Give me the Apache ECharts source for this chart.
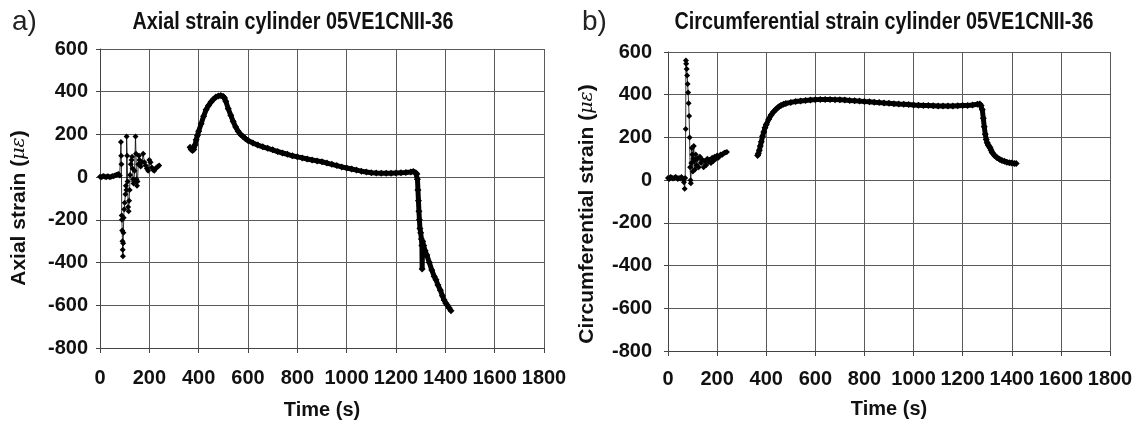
<!DOCTYPE html>
<html><head><meta charset="utf-8">
<script src="https://cdn.jsdelivr.net/npm/echarts@6/dist/echarts.min.js"></script>
<style>html,body{margin:0;padding:0;background:#fff}#c{width:1140px;height:431px}</style>
</head><body><div id="c"></div>
<script>
// ---- Data ----
var xTicks = [0,200,400,600,800,1000,1200,1400,1600,1800];
var yTicks = [-800,-600,-400,-200,0,200,400,600];

// Axial strain, early noisy segment
var axialTimeA = [0,5,10,15,20,25,30,35,40,45,50,55,60,65,70,75,80,
  85,86,87,88,89,90,91,92,93,94,95,96,98,100,103,105,107,108,110,112,114,116,118,120,122,125,128,130,132,134,136,138,140,144,146,148,150,152,155,158,160,165,170,175,180,185,190,195,200,205,210,215,220,225,230,235,240];
var axialStrainA = [2,0,3,5,2,0,4,3,0,2,5,4,8,10,12,15,8,
  165,100,60,-180,-200,-250,-300,-340,-370,-310,-260,-190,-150,-120,-80,-40,-60,190,100,-20,-140,-160,-110,-60,10,60,80,95,40,-10,-30,-20,30,190,110,-10,-40,-20,60,100,80,50,70,110,70,55,40,30,80,70,45,35,30,40,45,50,55];

// Axial strain, main segment
var axialTimeB = [365,370,375,380,385,390,395,400,410,420,430,440,450,460,470,480,490,500,505,510,520,530,540,550,560,570,580,590,600,620,640,660,680,700,720,740,760,780,800,820,840,860,880,900,920,940,960,980,1000,1020,1040,1060,1080,1100,1120,1140,1160,1180,1200,1220,1240,1260,1270,1280,
  1285,1287,1289,1291,1293,1295,1297,1300,1303,1305,1306,1308,1312,1318,1325,1335,1345,1355,1362,1370,1380,1388,1395,1402,1408,1415,1423];
var axialStrainB = [140,130,125,130,150,175,195,215,250,285,315,335,352,365,375,380,382,378,370,355,320,290,260,235,215,200,190,180,172,160,150,142,135,128,120,113,107,100,95,90,85,80,76,72,66,60,54,48,43,38,33,28,24,21,19,18,18,18,19,20,22,24,26,20,
  15,-10,-60,-110,-160,-200,-240,-260,-290,-320,-430,-300,-320,-345,-365,-400,-435,-465,-480,-505,-530,-555,-575,-590,-600,-612,-625];

// Circumferential strain, early noisy segment
var circTimeA = [0,5,10,15,20,25,30,35,40,45,50,55,60,65,68,70,72,73,74,76,78,80,82,84,86,88,90,92,93,95,97,99,101,103,105,107,110,113,116,120,125,130,135,140,145,150,155,160,165,170,175,180,185,190,195,200,205,210,215,220,225,230,235,240];
var circStrainA = [10,5,15,12,8,10,15,12,5,10,8,15,5,-10,-40,10,240,560,545,520,490,450,410,360,300,200,60,0,-15,80,150,120,40,100,160,90,50,120,70,100,60,110,80,95,60,90,70,100,85,95,80,105,90,110,100,115,105,115,120,118,125,128,130,132];

// Circumferential strain, main segment
var circTimeB = [365,368,372,376,380,385,390,395,400,410,420,430,440,450,460,470,480,500,520,540,560,580,600,620,640,660,680,700,720,740,760,780,800,820,840,860,880,900,920,940,960,980,1000,1020,1040,1060,1080,1100,1120,1140,1160,1180,1200,1220,1240,1260,1270,
  1275,1280,1284,1288,1292,1296,1300,1304,1308,1312,1316,1320,1330,1340,1350,1360,1370,1380,1390,1400,1410,1418];
var circStrainB = [115,125,140,160,180,205,225,245,260,285,305,320,332,342,350,355,359,364,368,371,373,375,377,378,378,378,377,376,375,373,372,370,368,367,365,363,361,360,358,356,355,354,352,351,350,349,348,347,347,347,347,348,349,350,352,355,356,
  350,330,290,250,215,190,175,165,158,150,140,130,115,105,98,92,88,84,82,80,78,78];

var axialName = 'Axial strain';
var circName = 'Circumferential strain';
var unitName = 'με';
var axialTitle = 'Axial strain cylinder 05VE1CNII-36';
var circTitle = 'Circumferential strain cylinder 05VE1CNII-36';

function pairs(t, v){ var o=[]; for(var i=0;i<t.length;i++) o.push([t[i], v[i]]); return o; }

var FONT = '"Liberation Sans",Arial,sans-serif';
var TXT = '#111';
var GRID = '#5a5a5a';

function xAxis(gi, lm, ng){
  return {type:'value', gridIndex:gi, min:xTicks[0], max:xTicks[xTicks.length-1], interval:200,
    name:'Time (s)', nameLocation:'middle', nameGap:ng,
    nameTextStyle:{fontFamily:FONT, fontWeight:'bold', fontSize:20, color:TXT},
    axisLine:{show:true, onZero:false, lineStyle:{color:'#444', width:1}},
    axisTick:{show:true, length:5, lineStyle:{color:'#444'}},
    axisLabel:{fontFamily:FONT, fontWeight:'bold', fontSize:20, color:TXT, margin:lm,
      showMinLabel:true, showMaxLabel:true, hideOverlap:false, formatter:function(v){return String(v);}},
    splitLine:{show:true, lineStyle:{color:GRID, width:1}}};
}
function yAxis(gi, lm){
  return {type:'value', gridIndex:gi, min:yTicks[0], max:yTicks[yTicks.length-1], interval:200,
    axisLine:{show:true, onZero:false, lineStyle:{color:'#444', width:1}},
    axisTick:{show:true, length:4, lineStyle:{color:'#444'}},
    axisLabel:{fontFamily:FONT, fontWeight:'bold', fontSize:20, color:TXT, margin:lm,
      showMinLabel:true, showMaxLabel:true, formatter:function(v){return String(v);}},
    splitLine:{show:true, lineStyle:{color:GRID, width:1}}};
}
function ser(gi, data, thick){
  return {type:'line', xAxisIndex:gi, yAxisIndex:gi, data:data, symbol:'diamond', symbolSize:thick?7:6,
    itemStyle:{color:'#000'}, lineStyle:{color:'#000', width:thick?5:0.8}, animation:false, silent:true};
}
function yName(txt, cx, cy){
  return {type:'text', x:cx, y:cy, rotation:Math.PI/2, silent:true,
    style:{text:txt + ' ({it|' + unitName + '})', fontFamily:FONT, fontWeight:'bold', fontSize:21, fill:TXT,
      align:'center', verticalAlign:'middle',
      rich:{it:{fontFamily:'"DejaVu Serif",serif', fontStyle:'italic', fontWeight:'normal', fontSize:19, fill:TXT}}}};
}
function titleText(txt, cx, cy){
  return {type:'text', x:cx, y:cy, scaleX:0.86, silent:true,
    style:{text:txt, fontFamily:FONT, fontWeight:'bold', fontSize:23, fill:TXT, align:'center', verticalAlign:'middle'}};
}
function tag(txt, x){
  return {type:'text', x:x, y:22, silent:true,
    style:{text:txt, fontFamily:FONT, fontWeight:'normal', fontSize:28, fill:'#222', align:'left', verticalAlign:'middle'}};
}

var chart = echarts.init(document.getElementById('c'), null, {renderer:'canvas'});
chart.setOption({
  backgroundColor:'#fff',
  animation:false,
  graphic:[
    tag('a)', 12), titleText(axialTitle, 293, 23),
    tag('b)', 582), titleText(circTitle, 884, 23),
    yName(axialName, 19, 208), yName(circName, 587, 214)
  ],
  grid:[
    {left:100, right:596, top:49, bottom:83, containLabel:false},
    {left:668, right:30, top:52, bottom:80, containLabel:false}
  ],
  xAxis:[xAxis(0, 20, 52), xAxis(1, 18, 48)],
  yAxis:[yAxis(0,12), yAxis(1,16)],
  series:[
    ser(0, pairs(axialTimeA, axialStrainA), false),
    ser(0, pairs(axialTimeB, axialStrainB), true),
    ser(1, pairs(circTimeA, circStrainA), false),
    ser(1, pairs(circTimeB, circStrainB), true)
  ]
});
</script></body></html>
